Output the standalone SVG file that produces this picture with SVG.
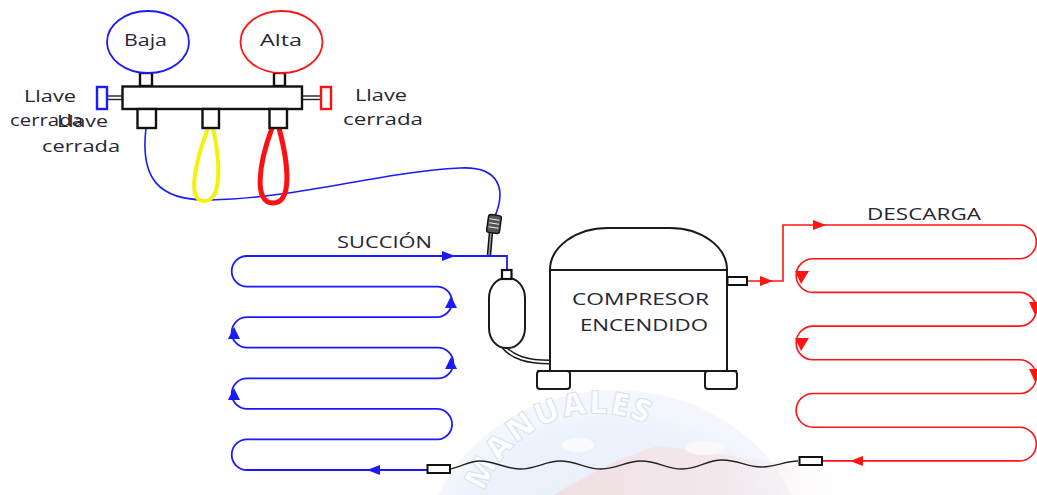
<svg xmlns="http://www.w3.org/2000/svg" width="1037" height="495" viewBox="0 0 1037 495">
  <style>
    .lbl { font-family: "Open Sans", "Liberation Sans", sans-serif; font-size: 17px; fill: #262633; }
    .blk { fill: #ffffff; stroke: #111111; stroke-width: 2.4; }
    .comp { fill: #ffffff; stroke: #1a1a1a; stroke-width: 2; }
    .blue { fill: none; stroke: #1a1aff; stroke-width: 1.8; }
    .red { fill: none; stroke: #ff1414; stroke-width: 1.6; }
    .ab { fill: #1a1aff; }
    .ar { fill: #ff1414; }
  </style>
  <defs>
    <path id="wmArc" d="M484,492 A120,120 0 0 1 715,514"/>
    <linearGradient id="pinkFade" x1="0" y1="0" x2="1" y2="0">
      <stop offset="0" stop-color="#f1dde0" stop-opacity="0.9"/>
      <stop offset="0.6" stop-color="#f4e6e8" stop-opacity="0.8"/>
      <stop offset="1" stop-color="#f8eff0" stop-opacity="0"/>
    </linearGradient>
    <radialGradient id="sealFill" cx="0.5" cy="0.6" r="0.55">
      <stop offset="0" stop-color="#e6eef9"/>
      <stop offset="0.85" stop-color="#ebf2fb"/>
      <stop offset="1" stop-color="#f3f7fd"/>
    </radialGradient>
  </defs>

  <rect width="1037" height="495" fill="#ffffff"/>

  <!-- faint seal in the background -->
  <g id="seal">
    <ellipse cx="615" cy="562" rx="192" ry="172" fill="url(#sealFill)"/>
    <path d="M553,495 C580,480 610,462 640,452 C652,447 660,445 668,447 C700,452 760,458 840,474 L840,495 Z" fill="url(#pinkFade)"/>
    <ellipse cx="578" cy="445" rx="16" ry="7" fill="#f9fbfe"/>
    <ellipse cx="705" cy="448" rx="20" ry="7" fill="#faf8f8"/>
    <text font-family="Open Sans, Liberation Sans, sans-serif" font-size="32" font-weight="800" letter-spacing="2" fill="#fbfdff" stroke="#d8e1ec" stroke-width="1">
      <textPath href="#wmArc">MANUALES</textPath>
    </text>
  </g>

  <!-- connectors: tubing, coils, hoses -->
  <g id="connectors">
    <!-- service hoses -->
    <path d="M146,128 C140,178 158,201 210,200 C300,198 380,172 460,168 C500,166 506,190 495,216" fill="none" stroke="#1a1aff" stroke-width="1.6"/>
    <path d="M208,128 C196,160 186,201 204,201 C223,201 220,160 213,128" fill="none" stroke="#f2f20c" stroke-width="4"/>
    <path d="M272,128 C258,166 254,203 273,203 C292,203 289,166 279,128" fill="none" stroke="#ff1010" stroke-width="5"/>

    <!-- evaporator coil (suction side) -->
    <path class="blue" d="M427,470 L247,470 A15.3,15.3 0 0 1 247,439.4 L438,439.4 A15.3,15.3 0 0 0 438,408.9 L247,408.9 A15.3,15.3 0 0 1 247,378.3 L438,378.3 A15.3,15.3 0 0 0 438,347.7 L247,347.7 A15.3,15.3 0 0 1 247,317.1 L438,317.1 A15.3,15.3 0 0 0 438,286.6 L247,286.6 A15.3,15.3 0 0 1 247,256 L507,256 L507,270"/>
    <polygon class="ab" points="455,256 442,251 442,261"/>
    <polygon class="ab" points="367,470 380,465 380,475"/>
    <polygon class="ab" points="451,296 445,308 457,308"/>
    <polygon class="ab" points="451,357 445,369 457,369"/>
    <polygon class="ab" points="234,327 228,339 240,339"/>
    <polygon class="ab" points="234,388 228,400 240,400"/>

    <!-- condenser coil (discharge side) -->
    <path class="red" d="M747,281 L783,281 L783,225 L1019.5,225 A16.85,16.85 0 0 1 1019.5,258.7 L813,258.7 A16.85,16.85 0 0 0 813,292.4 L1019.5,292.4 A16.85,16.85 0 0 1 1019.5,326.1 L813,326.1 A16.85,16.85 0 0 0 813,359.8 L1019.5,359.8 A16.85,16.85 0 0 1 1019.5,393.5 L813,393.5 A16.85,16.85 0 0 0 813,427.2 L1019.5,427.2 A16.85,16.85 0 0 1 1019.5,460.9 L822,460.9"/>
    <polygon class="ar" points="773,281 760,276 760,286"/>
    <polygon class="ar" points="826,225 813,220 813,230"/>
    <polygon class="ar" points="850,461 863,456 863,466"/>
    <polygon class="ar" points="795,271 809,271 801,284"/>
    <polygon class="ar" points="795,338 809,338 801,351"/>
    <polygon class="ar" points="1029,302 1042,302 1035,315"/>
    <polygon class="ar" points="1029,369 1042,369 1035,382"/>

    <!-- capillary tube -->
    <path d="M450,469 C462,467 468,461 480,461 C495,461 505,469 520,469 C537,469 545,461 560,461 C577,461 585,469 601,469 C618,469 625,461 641,461 C658,461 666,469 682,469 C699,469 706,460 722,460 C739,460 746,467 761,467 C776,467 785,461 798,461" fill="none" stroke="#222222" stroke-width="1.4"/>
    <rect x="427.5" y="465" width="22.5" height="8" fill="#ffffff" stroke="#111111" stroke-width="2"/>
    <rect x="799.5" y="457" width="22.5" height="8" fill="#ffffff" stroke="#111111" stroke-width="2"/>

    <!-- accumulator outlet to compressor -->
    <path d="M502,345 C512,358 528,362 550,362" fill="none" stroke="#1a1a1a" stroke-width="5"/>
    <path d="M502,345 C512,358 528,362 550,362" fill="none" stroke="#ffffff" stroke-width="2"/>
  </g>

  <!-- gauge manifold -->
  <g id="manifold">
    <rect x="140" y="73" width="12" height="13" class="blk"/>
    <rect x="274" y="73" width="11" height="13" class="blk"/>
    <line x1="107" y1="96" x2="122" y2="96" stroke="#222" stroke-width="1.4"/>
    <line x1="107" y1="99.5" x2="122" y2="99.5" stroke="#222" stroke-width="1.4"/>
    <line x1="302" y1="96" x2="320" y2="96" stroke="#222" stroke-width="1.4"/>
    <line x1="302" y1="99.5" x2="320" y2="99.5" stroke="#222" stroke-width="1.4"/>
    <rect x="97" y="87" width="10" height="22" fill="#ffffff" stroke="#1a1aff" stroke-width="2.4"/>
    <rect x="321" y="87" width="10" height="22" fill="#ffffff" stroke="#ff1010" stroke-width="2.4"/>
    <rect x="122.5" y="86.5" width="179.5" height="22.5" class="blk"/>
    <rect x="137.5" y="109" width="18.5" height="19" class="blk"/>
    <rect x="202.5" y="109" width="16.5" height="19" class="blk"/>
    <rect x="269.5" y="109" width="17.5" height="19" class="blk"/>
  </g>

  <g id="gauge-low">
    <ellipse cx="148" cy="42" rx="41" ry="31" fill="#ffffff" stroke="#1a1aff" stroke-width="1.8"/>
    <text class="lbl" x="124" y="46" textLength="43" lengthAdjust="spacingAndGlyphs">Baja</text>
  </g>

  <g id="gauge-high">
    <ellipse cx="281.5" cy="42" rx="41" ry="31" fill="#ffffff" stroke="#ff1414" stroke-width="1.8"/>
    <text class="lbl" x="260" y="46" textLength="42" lengthAdjust="spacingAndGlyphs">Alta</text>
  </g>

  <g id="valve-labels">
    <text class="lbl" x="24" y="102" textLength="52" lengthAdjust="spacingAndGlyphs">Llave</text>
    <text class="lbl" x="10" y="126" textLength="73" lengthAdjust="spacingAndGlyphs">cerrada</text>
    <text class="lbl" x="57" y="127" textLength="51" lengthAdjust="spacingAndGlyphs">Llave</text>
    <text class="lbl" x="42" y="152" textLength="78" lengthAdjust="spacingAndGlyphs">cerrada</text>
    <text class="lbl" x="355" y="101" textLength="52" lengthAdjust="spacingAndGlyphs">Llave</text>
    <text class="lbl" x="343" y="125" textLength="80" lengthAdjust="spacingAndGlyphs">cerrada</text>
  </g>

  <!-- suction service fitting -->
  <g id="fitting">
    <line x1="491" y1="232" x2="489" y2="255" stroke="#111" stroke-width="4.5"/>
    <line x1="491" y1="232" x2="489" y2="255" stroke="#9a9a9a" stroke-width="1.6"/>
    <g transform="rotate(8 494 224)">
      <rect x="487.5" y="215" width="13" height="18" rx="2.5" fill="#555" stroke="#111" stroke-width="1.4"/>
      <line x1="489" y1="219.5" x2="499" y2="219.5" stroke="#eee" stroke-width="1"/>
      <line x1="489" y1="223.5" x2="499" y2="223.5" stroke="#eee" stroke-width="1"/>
      <line x1="489" y1="227.5" x2="499" y2="227.5" stroke="#eee" stroke-width="1"/>
    </g>
  </g>

  <g id="accumulator">
    <rect x="489" y="278" width="36" height="70" rx="17" ry="20" class="comp"/>
    <rect x="502" y="270" width="9.5" height="9" fill="#ffffff" stroke="#111" stroke-width="2.2"/>
  </g>

  <g id="compressor">
    <rect x="537" y="371" width="33" height="18" rx="3" class="comp"/>
    <rect x="705" y="371" width="32" height="18" rx="3" class="comp"/>
    <path class="comp" d="M550,270 A58,42 0 0 1 608,228 L670,228 A57,42 0 0 1 727,270 Z"/>
    <rect x="550" y="270" width="177" height="101" class="comp"/>
    <line x1="537" y1="371" x2="737" y2="371" stroke="#1a1a1a" stroke-width="2"/>
    <rect x="727.5" y="277" width="19.5" height="8" fill="#ffffff" stroke="#111" stroke-width="2"/>
    <text class="lbl" x="572" y="305" textLength="137" lengthAdjust="spacingAndGlyphs">COMPRESOR</text>
    <text class="lbl" x="580" y="331" textLength="128" lengthAdjust="spacingAndGlyphs">ENCENDIDO</text>
  </g>

  <g id="line-labels">
    <text class="lbl" x="337" y="248" textLength="95" lengthAdjust="spacingAndGlyphs">SUCCIÓN</text>
    <text class="lbl" x="867" y="220" textLength="114" lengthAdjust="spacingAndGlyphs">DESCARGA</text>
  </g>
</svg>
